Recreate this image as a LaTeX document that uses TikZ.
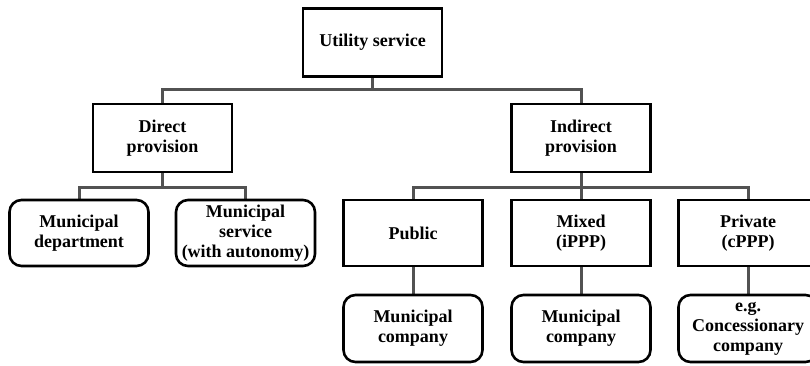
\documentclass[tikz,border=0pt]{standalone}
\usepackage{fontspec}
\setmainfont{Liberation Serif}
\usetikzlibrary{backgrounds}
\begin{document}
\begin{tikzpicture}[x=1pt,y=-1pt,
  box/.style={draw=black,line width=2.6pt,fill=white,align=center,inner sep=1pt,
    font=\bfseries\fontsize{18}{20}\selectfont,minimum width=139pt,minimum height=68pt},
  rbox/.style={box,rounded corners=12pt},
  conn/.style={draw=black!68,line width=3pt}]
\useasboundingbox (0,0) rectangle (810,365);
\clip (0,0) rectangle (810,365);
\node[box] (util) at (372.5,42.5) {Utility service};
\node[box] (direct) at (162.5,138) {Direct\\provision};
\node[box] (indirect) at (581,138) {Indirect\\provision};
\node[rbox,minimum height=66pt] (mdep) at (79,233) {Municipal\\department};
\node[rbox,minimum height=66pt] (mserv) at (245.5,233) {Municipal\\service\\(with autonomy)};
\node[box,minimum height=66pt] (public) at (413,233) {Public};
\node[box,minimum height=66pt] (mixed) at (581,233) {Mixed\\(iPPP)};
\node[box,minimum height=66pt] (private) at (748,233) {Private\\(cPPP)};
\node[rbox,minimum height=67pt] (mc1) at (413,328.5) {Municipal\\company};
\node[rbox,minimum height=67pt] (mc2) at (581,328.5) {Municipal\\company};
\node[rbox,minimum height=67pt] (cc) at (748,328.5) {e.g.\\Concessionary\\company};
\coordinate (b1) at (372.5,89);
\coordinate (b2) at (162.5,187);
\coordinate (b3) at (581,187);
\begin{scope}[on background layer]
\draw[conn] (util.south) -- (b1);
\draw[conn] (direct.north) |- (b1) -| (indirect.north);
\draw[conn] (direct.south) -- (b2);
\draw[conn] (mdep.north) |- (b2) -| (mserv.north);
\draw[conn] (indirect.south) -- (b3) -- (mixed.north);
\draw[conn] (public.north) |- (b3) -| (private.north);
\draw[conn] (public.south) -- (mc1.north);
\draw[conn] (mixed.south) -- (mc2.north);
\draw[conn] (private.south) -- (cc.north);
\end{scope}
\end{tikzpicture}
\end{document}
